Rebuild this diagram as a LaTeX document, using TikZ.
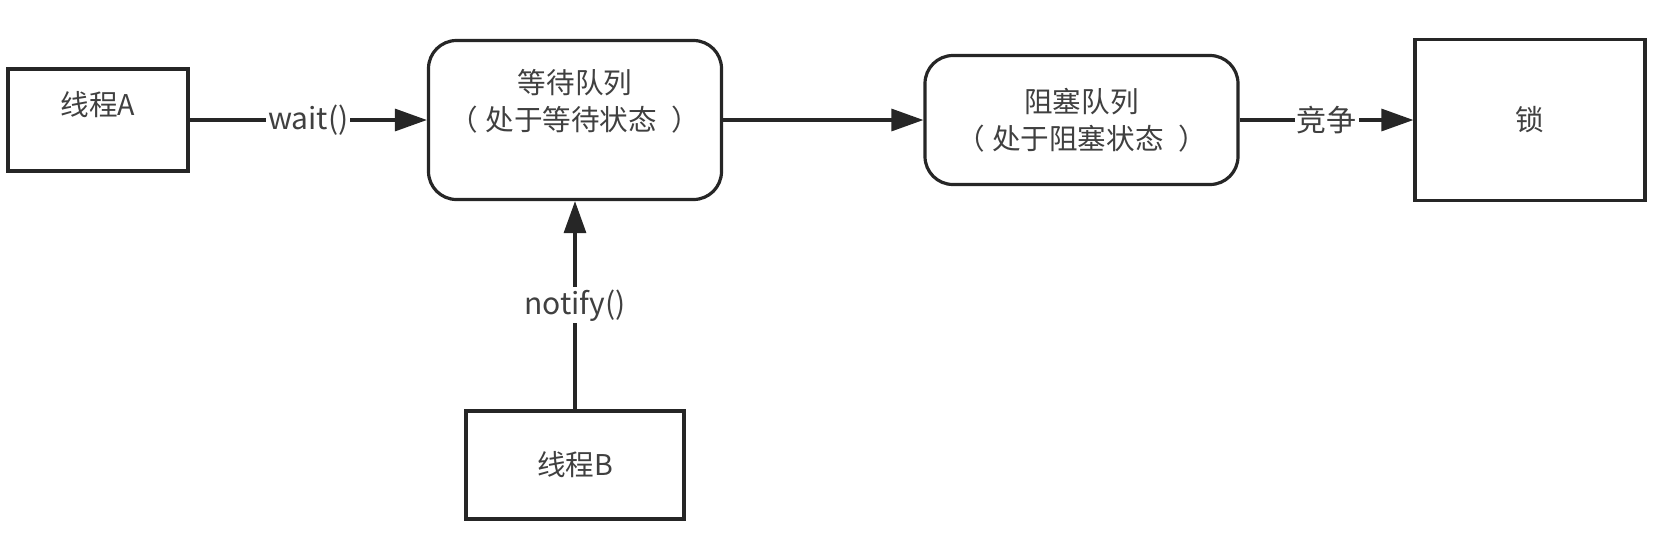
\documentclass[tikz,border=0pt]{standalone}
\usepackage{fontspec}
\setmainfont{Noto Sans CJK SC}
\usetikzlibrary{arrows.meta}
\tikzset{
	box/.style={draw=black!85, line width=1.6pt, text=black!75, font=\fontsize{14.3}{18.5}\selectfont, align=center, inner sep=0pt},
	queue/.style={box, rounded corners=14pt},
	link/.style={draw=black!85, line width=1.6pt, -{Triangle[length=16pt,width=11pt]}},
	tag/.style={fill=white, text=black!75, font=\fontsize{15}{17}\selectfont, inner sep=1pt},
}
\newcommand{\lgap}{\hspace{0.25em}}
\newcommand{\rgap}{\hspace{0.5em}}

\begin{document}
\begin{tikzpicture}[x=0.5pt, y=-0.5pt]
			%%%%% START %%%%%
			
			\useasboundingbox (0, 0) rectangle (1656, 532);
			
			\node[box, minimum width=90pt, minimum height=51pt, text depth=17pt] (threadA) at (98, 120) {线程A};
			\node[queue, minimum width=146.5pt, minimum height=79.5pt, text depth=20pt] (waitq) at (575, 120) {等待队列\\（\lgap 处于等待状态\rgap ）};
			\node[queue, minimum width=156.5pt, minimum height=64.5pt] (blockq) at (1081.5, 120) {阻塞队列\\（\lgap 处于阻塞状态\rgap ）};
			\node[box, minimum width=115pt, minimum height=80.5pt] (lock) at (1530, 120) {锁};
			\node[box, minimum width=109pt, minimum height=54pt] (threadB) at (575, 465) {线程B};
			
			\draw[link] (threadA) -- node[tag] {wait()} (waitq);
			\draw[link] (waitq) -- (blockq);
			\draw[link] (blockq) -- node[tag] {竞争} (lock);
			\draw[link] (threadB) -- node[tag] {notify()} (waitq);
			
			%%%%% END %%%%%
		\end{tikzpicture}
\end{document}
